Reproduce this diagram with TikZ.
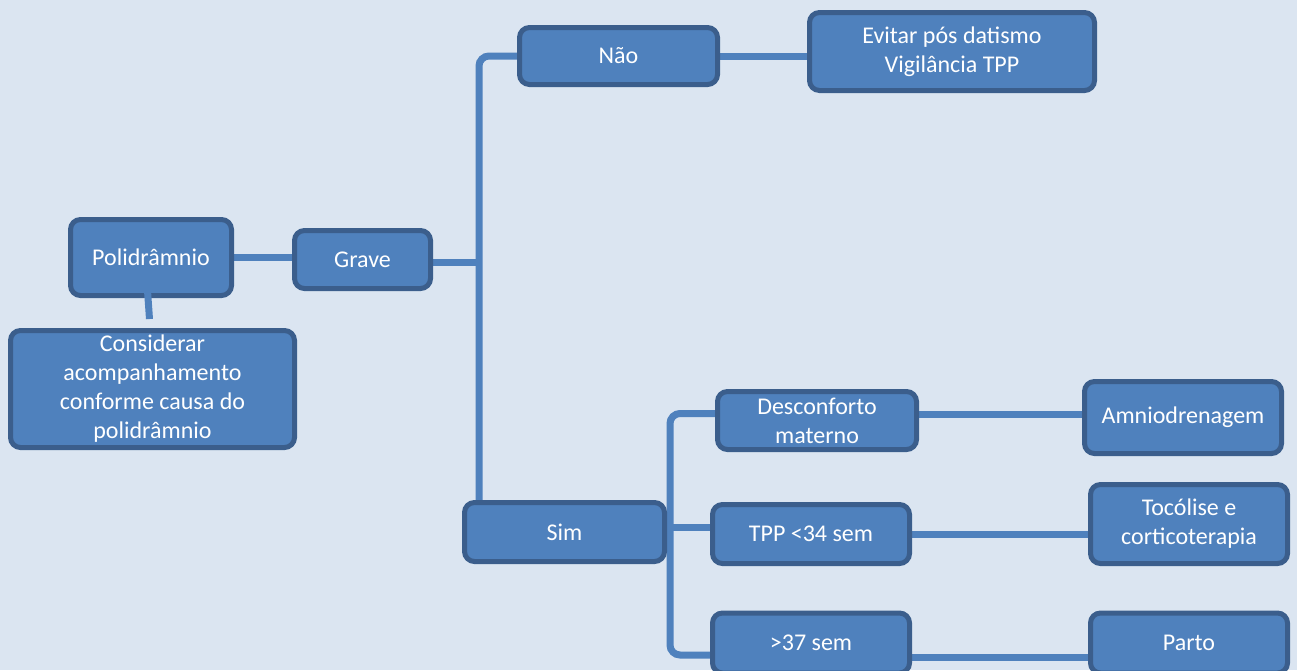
\documentclass[tikz,border=0pt]{standalone}
\usepackage{fontspec}
\setmainfont{Carlito}
\usetikzlibrary{positioning}
\definecolor{fundo}{HTML}{DBE5F1}
\definecolor{azulcaixa}{HTML}{4F81BD}
\definecolor{azulborda}{HTML}{3B5E8C}
\definecolor{azulligacao}{HTML}{4F81BD}
\pgfdeclarelayer{fundo}
\pgfdeclarelayer{ligacoes}
\pgfsetlayers{fundo,ligacoes,main}

\begin{document}
\begin{tikzpicture}[x=1pt, y=-1pt,
    bloco/.style={draw=azulborda, fill=azulcaixa, line width=5pt, rounded corners=10pt,
      text=white, align=center, inner sep=0pt, font=\fontsize{24}{29}\selectfont},
    ligacao/.style={draw=azulligacao, line width=7pt}]
					\useasboundingbox (0, 0) rectangle (1297, 670);
					\begin{pgfonlayer}{fundo}
					\fill[fundo] (0, 0) rectangle (1297, 670);
					\end{pgfonlayer}
					\clip (0, 0) rectangle (1297, 670);
					% caixas
					\node[bloco, minimum width=161pt, minimum height=76pt] (poli) at (151, 257.5) {Polidrâmnio};
					\node[bloco, minimum width=284pt, minimum height=117pt] (cons) at (152.5, 389) {Considerar\\acompanhamento\\conforme causa do\\polidrâmnio};
					\node[bloco, minimum width=136pt, minimum height=58pt] (grave) at (362.5, 259.5) {Grave};
					\node[bloco, minimum width=198pt, minimum height=57pt] (nao) at (618.5, 56) {Não};
					\node[bloco, minimum width=285pt, minimum height=78pt] (evitar) at (952, 51.5) {Evitar pós datismo\\Vigilância TPP};
					\node[bloco, minimum width=200pt, minimum height=59pt] (sim) at (564.5, 532) {Sim};
					\node[bloco, minimum width=199pt, minimum height=58pt] (desc) at (817, 420.5) {Desconforto\\materno};
					\node[bloco, minimum width=197pt, minimum height=72pt] (amnio) at (1183, 417.5) {Amniodrenagem};
					\node[bloco, minimum width=197pt, minimum height=59pt] (tpp) at (811, 534) {TPP <34 sem};
					\node[bloco, minimum width=197pt, minimum height=79pt] (toco) at (1189, 524) {Tocólise e\\corticoterapia};
					\node[bloco, minimum width=197pt, minimum height=60pt] (s37) at (811, 643) {>37 sem};
					\node[bloco, minimum width=197pt, minimum height=60pt] (parto) at (1189, 643) {Parto};
					% ligacoes
					\coordinate (troncoA) at (479, 0);
					\coordinate (troncoB) at (670, 0);
					\begin{pgfonlayer}{ligacoes}
					\draw[ligacao] (poli.east)--(grave.west |- poli.east);
					\draw[ligacao] ([yshift=-3pt]grave.east)--([yshift=-3pt]grave.east -| troncoA);
					\draw[ligacao, rounded corners=10pt] (nao.west) -| (sim.north -| troncoA);
					\draw[ligacao] (nao.east)--(nao.east -| evitar.west);
					\draw[ligacao] ([yshift=5pt]sim.east)--([yshift=5pt]sim.east -| troncoB);
					\draw[ligacao, rounded corners=10pt] ([yshift=7pt]desc.west) -| ([yshift=-12pt]s37.west -| troncoB)--([yshift=-12pt]s37.west);
					\draw[ligacao] ([yshift=7pt]tpp.west)--([yshift=7pt]tpp.west -| troncoB);
					\draw[ligacao] ([yshift=6pt]desc.east)--([yshift=6pt]desc.east -| amnio.west);
					\draw[ligacao] (tpp.east)--(tpp.east -| toco.west);
					\draw[ligacao] ([yshift=-14pt]s37.east)--([yshift=-14pt]s37.east -| parto.west);
					\end{pgfonlayer}
					\draw[ligacao] ([xshift=-4pt, yshift=-26pt]poli.center)--([xshift=-3pt, yshift=9pt]cons.north);
				\end{tikzpicture}
\end{document}
